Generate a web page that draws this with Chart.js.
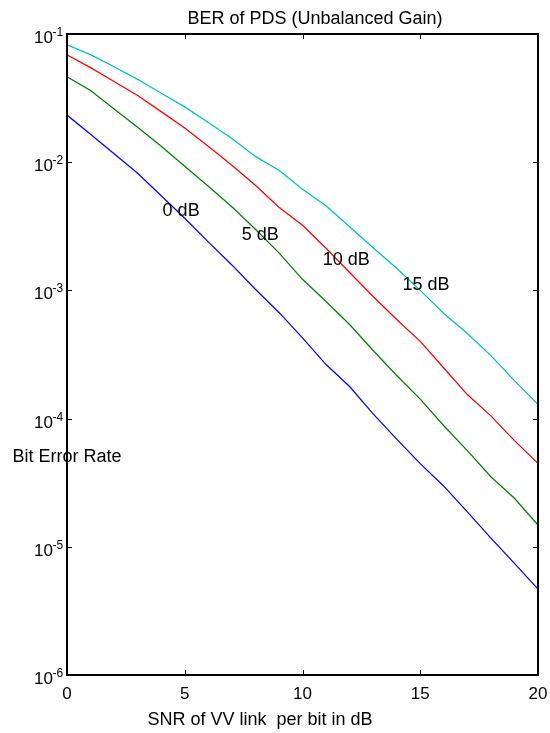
<!DOCTYPE html>
<html>
<head>
<meta charset="utf-8">
<script src="https://cdn.jsdelivr.net/npm/chart.js@4.4.1/dist/chart.umd.min.js"></script>
<style>
  html, body { margin: 0; padding: 0; background: #fff; }
  canvas { display: block; }
</style>
</head>
<body>
<canvas id="chart" width="550" height="733"></canvas>
<script>
// ---- data ----
const snr = [0, 1, 2, 3, 4, 5, 6, 7, 8, 9, 10, 11, 12, 13, 14, 15, 16, 17, 18, 19, 20];

const ber0 = [0.0233, 0.01655, 0.01164, 0.0082, 0.00547, 0.00365, 0.00239, 0.00158, 0.00102, 6.73e-4,
  4.26e-4, 2.64e-4, 1.78e-4, 1.09e-4, 6.92e-5, 4.45e-5, 2.97e-5, 1.87e-5, 1.17e-5, 7.43e-6, 4.68e-6];
const ber5 = [0.0464, 0.0362, 0.02595, 0.01875, 0.01334, 0.0093, 0.0065, 0.00449, 0.0030, 0.00196,
  0.00122, 8.2e-4, 5.42e-4, 3.4e-4, 2.17e-4, 1.42e-4, 8.8e-5, 5.62e-5, 3.52e-5, 2.39e-5, 1.48e-5];
const ber10 = [0.0689, 0.0547, 0.0426, 0.0331, 0.0248, 0.01845, 0.01334, 0.00948, 0.0066, 0.00445,
  0.00322, 0.00213, 0.00138, 8.97e-4, 5.93e-4, 4.0e-4, 2.48e-4, 1.54e-4, 1.05e-4, 6.73e-5, 4.48e-5];
const ber15 = [0.0825, 0.069, 0.0555, 0.0443, 0.0345, 0.0270, 0.0204, 0.0153, 0.0111, 0.00866,
  0.00615, 0.00457, 0.00314, 0.00215, 0.00149, 0.0010, 6.6e-4, 4.61e-4, 3.1e-4, 1.98e-4, 1.29e-4];

const curveLabels = ["0 dB", "5 dB", "10 dB", "15 dB"];
const labelX = [4.06, 7.42, 10.86, 14.25];
const labelY = [0.00414, 0.00272, 0.00171, 0.00111];

const xTicks = [0, 5, 10, 15, 20];
const yTicks = [1e-1, 1e-2, 1e-3, 1e-4, 1e-5, 1e-6];
const yExponents = ["-1", "-2", "-3", "-4", "-5", "-6"];

const titleText = "BER of PDS (Unbalanced Gain)";
const xTitle = "SNR of VV link  per bit in dB";
const yTitle = "Bit Error Rate";

// ---- helpers ----
const FONT = "'Liberation Sans', Arial, Helvetica, sans-serif";

function toPoints(ys) {
  return snr.map((x, i) => ({ x, y: ys[i] }));
}

function line(label, ys, color) {
  return {
    label,
    data: toPoints(ys),
    borderColor: color,
    backgroundColor: color,
    borderWidth: 1.25,
    pointRadius: 0,
    tension: 0,
    fill: false
  };
}

// axes box, inward ticks, tick labels, titles, curve annotations
const matlabAxes = {
  id: "matlabAxes",
  afterDraw(chart) {
    const ctx = chart.ctx;
    const a = chart.chartArea;
    const xs = chart.scales.x;
    const ys = chart.scales.y;
    const tl = 5;

    ctx.save();
    ctx.strokeStyle = "#000";
    ctx.lineWidth = 2;
    ctx.strokeRect(a.left, a.top, a.right - a.left, a.bottom - a.top);

    ctx.lineWidth = 1;
    ctx.beginPath();
    xTicks.forEach(v => {
      const px = Math.round(xs.getPixelForValue(v)) + 0.5;
      ctx.moveTo(px, a.bottom); ctx.lineTo(px, a.bottom - tl);
      ctx.moveTo(px, a.top); ctx.lineTo(px, a.top + tl);
    });
    yTicks.forEach(v => {
      const py = Math.round(ys.getPixelForValue(v)) + 0.5;
      ctx.moveTo(a.left, py); ctx.lineTo(a.left + tl, py);
      ctx.moveTo(a.right, py); ctx.lineTo(a.right - tl, py);
    });
    ctx.stroke();

    ctx.fillStyle = "#000";

    // x tick labels
    ctx.font = "17px " + FONT;
    ctx.textAlign = "center";
    ctx.textBaseline = "alphabetic";
    xTicks.forEach(v => {
      ctx.fillText(String(v), xs.getPixelForValue(v), a.bottom + 24);
    });

    // y tick labels: 10 with raised exponent
    yTicks.forEach((v, i) => {
      const py = ys.getPixelForValue(v);
      ctx.font = "17px " + FONT;
      ctx.textAlign = "right";
      ctx.fillText("10", a.left - 14, py + 9);
      ctx.font = "12px " + FONT;
      ctx.textAlign = "left";
      ctx.fillText(yExponents[i], a.left - 14.5, py + 2);
    });

    // titles
    ctx.font = "18px " + FONT;
    ctx.textAlign = "center";
    ctx.fillText(titleText, 315, 24);
    ctx.fillText(xTitle, 260, 725);
    ctx.textAlign = "left";
    ctx.fillText(yTitle, 12.5, 461.5);

    // curve annotations
    ctx.textBaseline = "middle";
    curveLabels.forEach((t, i) => {
      ctx.fillText(t, xs.getPixelForValue(labelX[i]), ys.getPixelForValue(labelY[i]));
    });
    ctx.restore();
  }
};

new Chart(document.getElementById("chart"), {
  type: "line",
  data: {
    datasets: [
      line("0 dB", ber0, "#0000ff"),
      line("5 dB", ber5, "#008000"),
      line("10 dB", ber10, "#ff0000"),
      line("15 dB", ber15, "#00bfbf")
    ]
  },
  options: {
    responsive: false,
    devicePixelRatio: 1,
    animation: false,
    events: [],
    layout: { padding: { top: 34, right: 12, left: 0, bottom: 0 } },
    plugins: {
      legend: { display: false },
      title: { display: false },
      tooltip: { enabled: false }
    },
    scales: {
      x: {
        type: "linear",
        min: 0,
        max: 20,
        ticks: { display: false, stepSize: 5 },
        grid: { display: false },
        border: { display: false },
        afterFit: s => { s.height = 58; }
      },
      y: {
        type: "logarithmic",
        min: 1e-6,
        max: 1e-1,
        ticks: { display: false },
        grid: { display: false },
        border: { display: false },
        afterBuildTicks: s => { s.ticks = yTicks.map(v => ({ value: v })); },
        afterFit: s => { s.width = 67; }
      }
    }
  },
  plugins: [matlabAxes]
});
</script>
</body>
</html>
